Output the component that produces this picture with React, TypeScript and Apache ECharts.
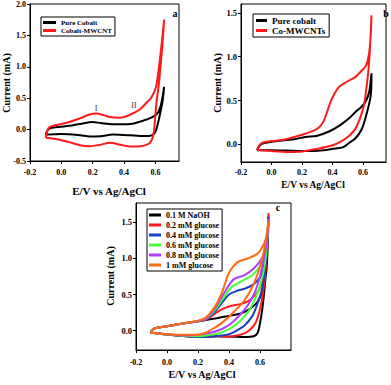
import React, { useEffect, useRef } from "react";
import * as echarts from "echarts";

// ---------- DATA ----------
// Panel a (E/V, current mA) loops
const aPureCobalt: number[][] = [
  [-0.1, -0.08], [-0.09, -0.02], [-0.075, 0.02], [-0.05, 0.035], [0.0, 0.045], [0.05, 0.06], [0.12, 0.09],
  [0.2, 0.12], [0.25, 0.105], [0.33, 0.085], [0.44, 0.09], [0.52, 0.14], [0.58, 0.2], [0.61, 0.25],
  [0.63, 0.35], [0.645, 0.52], [0.655, 0.68],
  [0.645, 0.45], [0.625, 0.2], [0.605, 0.0], [0.59, -0.07], [0.56, -0.1], [0.5, -0.1], [0.44, -0.09],
  [0.33, -0.08], [0.25, -0.105], [0.18, -0.11], [0.12, -0.09], [0.0, -0.07], [-0.1, -0.08],
];
const aCobaltMWCNT: number[][] = [
  [-0.1, -0.13], [-0.09, -0.02], [-0.075, 0.04], [-0.04, 0.07], [0.0, 0.09], [0.05, 0.12], [0.12, 0.18],
  [0.18, 0.24], [0.225, 0.255], [0.27, 0.23], [0.31, 0.2], [0.375, 0.19], [0.44, 0.24], [0.5, 0.32],
  [0.54, 0.42], [0.57, 0.5], [0.6, 0.65], [0.615, 0.85], [0.632, 1.2], [0.645, 1.5], [0.655, 1.75],
  [0.645, 1.38], [0.632, 1.0], [0.62, 0.69], [0.607, 0.45], [0.595, 0.1], [0.585, -0.1], [0.56, -0.22],
  [0.5, -0.265], [0.44, -0.27], [0.375, -0.24], [0.31, -0.21], [0.25, -0.24], [0.18, -0.265],
  [0.12, -0.25], [0.05, -0.2], [-0.01, -0.16], [-0.1, -0.13],
];
// Panel b
const bPureCobalt: number[][] = [
  [-0.095, -0.065], [-0.08, -0.02], [-0.06, 0.01], [0.0, 0.03], [0.1, 0.05], [0.15, 0.06], [0.22, 0.085],
  [0.3, 0.1], [0.38, 0.15], [0.45, 0.22], [0.51, 0.3], [0.55, 0.37], [0.59, 0.43], [0.62, 0.5],
  [0.64, 0.6], [0.65, 0.72], [0.655, 0.81],
  [0.65, 0.56], [0.62, 0.33], [0.59, 0.17], [0.55, 0.07], [0.51, 0.02], [0.47, -0.03], [0.4, -0.05],
  [0.34, -0.065], [0.21, -0.075], [0.1, -0.07], [0.0, -0.065], [-0.095, -0.065],
];
const bCoMWCNTs: number[][] = [
  [-0.095, -0.06], [-0.075, 0.0], [-0.05, 0.025], [0.0, 0.04], [0.07, 0.05], [0.2, 0.11], [0.28, 0.16],
  [0.315, 0.2], [0.34, 0.26], [0.36, 0.35], [0.39, 0.5], [0.41, 0.57], [0.445, 0.66], [0.5, 0.72],
  [0.55, 0.77], [0.59, 0.84], [0.62, 0.9], [0.64, 1.05], [0.65, 1.25], [0.655, 1.47],
  [0.645, 1.1], [0.635, 0.85], [0.62, 0.62], [0.605, 0.44], [0.58, 0.3], [0.55, 0.18], [0.51, 0.1],
  [0.45, 0.03], [0.4, -0.01], [0.3, -0.05], [0.2, -0.08], [0.11, -0.085], [0.0, -0.075], [-0.095, -0.06],
];
// Panel c
const cNaOH: number[][] = [
  [-0.105, -0.03], [-0.09, 0.02], [-0.06, 0.04], [0.0, 0.06], [0.11, 0.1], [0.2, 0.13], [0.25, 0.145],
  [0.32, 0.17], [0.39, 0.2], [0.48, 0.24], [0.54, 0.31], [0.585, 0.4], [0.617, 0.56], [0.64, 0.8],
  [0.65, 1.2], [0.655, 1.58],
  [0.645, 1.0], [0.63, 0.6], [0.615, 0.3], [0.6, 0.1], [0.585, -0.03], [0.56, -0.08], [0.5, -0.09],
  [0.42, -0.085], [0.33, -0.08], [0.2, -0.09], [0.13, -0.08], [0.0, -0.055], [-0.105, -0.03],
];
const cGlucose02: number[][] = [
  [-0.105, -0.03], [-0.09, 0.02], [-0.06, 0.04], [0.0, 0.06], [0.11, 0.1], [0.2, 0.13], [0.25, 0.15],
  [0.3, 0.22], [0.35, 0.29], [0.41, 0.34], [0.48, 0.37], [0.54, 0.43], [0.595, 0.57], [0.625, 0.8],
  [0.645, 1.2], [0.655, 1.63],
  [0.645, 1.1], [0.63, 0.7], [0.61, 0.4], [0.59, 0.22], [0.57, 0.1], [0.54, 0.02], [0.5, -0.04],
  [0.45, -0.07], [0.4, -0.085], [0.33, -0.08], [0.2, -0.09], [0.13, -0.08], [0.0, -0.055], [-0.105, -0.03],
];
const cGlucose04: number[][] = [
  [-0.105, -0.03], [-0.09, 0.02], [-0.06, 0.04], [0.0, 0.06], [0.11, 0.1], [0.2, 0.13], [0.25, 0.155],
  [0.3, 0.24], [0.36, 0.4], [0.4, 0.5], [0.45, 0.55], [0.5, 0.58], [0.55, 0.63], [0.605, 0.75], [0.63, 0.95],
  [0.645, 1.2], [0.655, 1.58],
  [0.645, 1.15], [0.63, 0.8], [0.61, 0.55], [0.58, 0.35], [0.55, 0.2], [0.5, 0.07], [0.45, 0.0],
  [0.4, -0.05], [0.35, -0.07], [0.3, -0.08], [0.2, -0.09], [0.13, -0.08], [0.0, -0.055], [-0.105, -0.03],
];
const cGlucose06: number[][] = [
  [-0.105, -0.03], [-0.09, 0.02], [-0.06, 0.04], [0.0, 0.06], [0.11, 0.1], [0.2, 0.13], [0.25, 0.16],
  [0.3, 0.26], [0.37, 0.47], [0.42, 0.61], [0.477, 0.68], [0.55, 0.77], [0.605, 0.91], [0.635, 1.1],
  [0.655, 1.55],
  [0.645, 1.2], [0.63, 0.9], [0.6, 0.62], [0.57, 0.45], [0.53, 0.28], [0.48, 0.15], [0.43, 0.06],
  [0.38, 0.0], [0.33, -0.04], [0.28, -0.06], [0.2, -0.08], [0.13, -0.075], [0.0, -0.055], [-0.105, -0.03],
];
const cGlucose08: number[][] = [
  [-0.105, -0.03], [-0.09, 0.02], [-0.06, 0.04], [0.0, 0.06], [0.11, 0.1], [0.2, 0.13], [0.25, 0.165],
  [0.3, 0.28], [0.38, 0.56], [0.43, 0.71], [0.5, 0.77], [0.56, 0.86], [0.617, 1.02], [0.64, 1.2],
  [0.655, 1.55],
  [0.645, 1.25], [0.625, 1.0], [0.6, 0.75], [0.57, 0.55], [0.53, 0.38], [0.48, 0.24], [0.43, 0.13],
  [0.38, 0.05], [0.33, 0.0], [0.28, -0.03], [0.2, -0.06], [0.13, -0.07], [0.0, -0.05], [-0.105, -0.03],
];
const cGlucose1: number[][] = [
  [-0.105, -0.03], [-0.09, 0.02], [-0.06, 0.04], [0.0, 0.06], [0.11, 0.1], [0.2, 0.135], [0.25, 0.18],
  [0.3, 0.3], [0.35, 0.5], [0.4, 0.8], [0.455, 0.95], [0.52, 1.0], [0.585, 1.07], [0.627, 1.21],
  [0.645, 1.35], [0.655, 1.52],
  [0.64, 1.3], [0.62, 1.05], [0.59, 0.82], [0.55, 0.6], [0.5, 0.42], [0.45, 0.3], [0.4, 0.19],
  [0.35, 0.1], [0.3, 0.03], [0.25, -0.03], [0.2, -0.06], [0.1, -0.06], [0.0, -0.05], [-0.105, -0.03],
];

const xTicks = [-0.2, 0, 0.2, 0.4, 0.6];
const yTicksA = [-0.5, 0, 0.5, 1.0, 1.5, 2.0];
const yTicksBC = [0, 0.5, 1.0, 1.5];

const namesA = ["Pure Cobalt", "Cobalt-MWCNT"];
const namesB = ["Pure cobalt", "Co-MWCNTs"];
const namesC = ["0.1 M NaOH", "0.2 mM glucose", "0.4 mM glucose", "0.6 mM glucose", "0.8 mM glucose", "1 mM glucose"];
const colorsAB = ["#000000", "#ff1a1a"];
const colorsC = ["#000000", "#ff1a1a", "#1a3fc4", "#44ff33", "#b23cff", "#ff6a10"];

const FONT = '"Liberation Serif", "DejaVu Serif", serif';

function mkX(gi: number, min: number, max: number, fs: number, margin: number) {
  return {
    type: "value", gridIndex: gi, min, max,
    axisLine: { show: true, onZero: false, lineStyle: { color: "#000", width: 1 } },
    axisTick: { show: true, length: 3, customValues: xTicks, lineStyle: { color: "#000" } },
    axisLabel: { customValues: xTicks, formatter: (v: number) => v.toFixed(1), color: "#000", fontFamily: FONT, fontWeight: "bold", fontSize: fs, margin },
    splitLine: { show: false },
  };
}
function mkY(gi: number, min: number, max: number, ticks: number[], fs: number) {
  return {
    type: "value", gridIndex: gi, min, max,
    axisLine: { show: true, onZero: false, lineStyle: { color: "#000", width: 1 } },
    axisTick: { show: true, length: 3, customValues: ticks, lineStyle: { color: "#000" } },
    axisLabel: { customValues: ticks, formatter: (v: number) => v.toFixed(1), color: "#000", fontFamily: FONT, fontWeight: "bold", fontSize: fs, margin: 4 },
    splitLine: { show: false },
  };
}
function mkSeries(gi: number, name: string, data: number[][], color: string, width: number) {
  return {
    type: "line", name, xAxisIndex: gi, yAxisIndex: gi, data, symbol: "none", smooth: 0.3,
    lineStyle: { color, width }, itemStyle: { color },
  };
}
function mkLegend(names: string[], left: number, top: number, fs: number, iw: number, gap: number, pad: number[]) {
  return {
    left, top, orient: "vertical", data: names, icon: "rect", itemWidth: iw, itemHeight: 3, itemGap: gap,
    padding: pad, borderColor: "#000", borderWidth: 1, backgroundColor: "#fff", selectedMode: false,
    textStyle: { fontFamily: FONT, fontWeight: "bold", fontSize: fs, color: "#000" },
  };
}
function txt(text: string, x: number, y: number, size: number, rot = 0, weight = "bold", fill = "#000") {
  return {
    type: "text", x, y, rotation: rot, z: 100,
    style: { text, fill, font: `${weight} ${size}px ${FONT}`, textAlign: "center", textVerticalAlign: "middle" },
  };
}

export default function App() {
  const ref = useRef<HTMLDivElement>(null);
  useEffect(() => {
    if (!ref.current) return;
    const chart = echarts.init(ref.current, null, { renderer: "svg" });
    const dataA = [aPureCobalt, aCobaltMWCNT];
    const dataB = [bPureCobalt, bCoMWCNTs];
    const dataC = [cNaOH, cGlucose02, cGlucose04, cGlucose06, cGlucose08, cGlucose1];
    chart.setOption({
      animation: false,
      backgroundColor: "#fff",
      grid: [
        { left: 30, top: 4, width: 149, height: 157, show: true, borderColor: "#000", borderWidth: 1 },
        { left: 241, top: 4, width: 145, height: 158, show: true, borderColor: "#000", borderWidth: 1 },
        { left: 136, top: 203, width: 155, height: 147, show: true, borderColor: "#000", borderWidth: 1 },
      ],
      xAxis: [mkX(0, -0.2, 0.75, 8, 7), mkX(1, -0.2, 0.75, 8, 6), mkX(2, -0.2, 0.8, 8, 8)],
      yAxis: [mkY(0, -0.5, 2.0, yTicksA, 8), mkY(1, -0.2, 1.6, yTicksBC, 8.5), mkY(2, -0.27, 1.77, yTicksBC, 8.5)],
      legend: [
        mkLegend(namesA, 41, 17, 7, 13, 1, [2, 3, 2, 2]),
        mkLegend(namesB, 253, 14, 9, 11, 1, [2, 4, 2, 3]),
        mkLegend(namesC, 147, 209, 8, 12, 2, [2, 3, 2, 2]),
      ],
      series: [
        ...dataA.map((d, i) => mkSeries(0, namesA[i], d, colorsAB[i], 2)),
        ...dataB.map((d, i) => mkSeries(1, namesB[i], d, colorsAB[i], 2)),
        ...dataC.map((d, i) => mkSeries(2, namesC[i], d, colorsC[i], 2)),
      ],
      graphic: [
        txt("Current (mA)", 6, 83, 10, Math.PI / 2),
        txt("E/V vs Ag/AgCl", 109, 191, 11),
        txt("Current (mA)", 217, 83, 10, Math.PI / 2),
        txt("E/V vs Ag/AgCl", 313, 185, 9.5),
        txt("Current (mA)", 110, 276, 10, Math.PI / 2),
        txt("E/V vs Ag/AgCl", 202, 374, 10),
        txt("a", 175, 13, 10),
        txt("b", 386, 13, 10),
        txt("c", 278, 207, 10),
        txt("I", 96, 108, 8, 0, "normal", "#333"),
        txt("II", 134, 105, 8, 0, "normal", "#333"),
      ],
    });
    return () => chart.dispose();
  }, []);
  return <div ref={ref} style={{ position: "fixed", left: 0, top: 0, width: 391, height: 385, background: "#fff" }} />;
}
